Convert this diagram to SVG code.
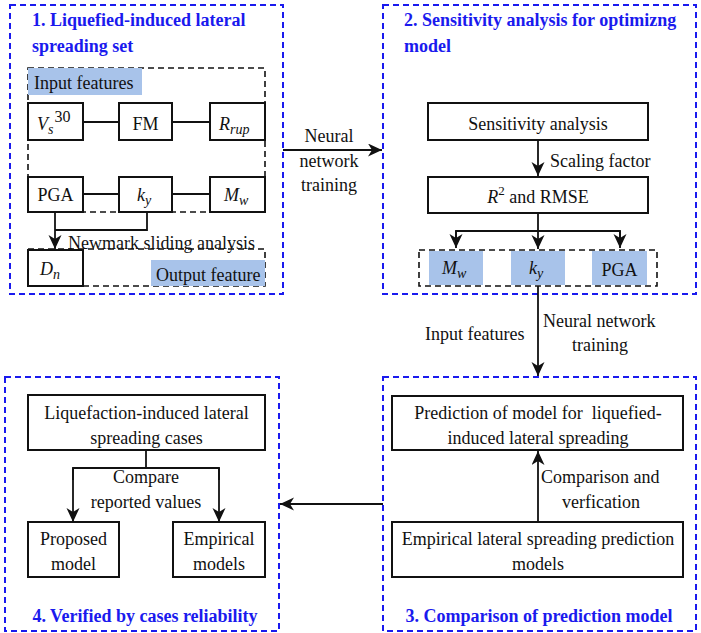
<svg xmlns="http://www.w3.org/2000/svg" width="701" height="633" viewBox="0 0 701 633" font-family="'Liberation Serif', 'Times New Roman', serif">
<style>
text{font-family:'Liberation Serif','Times New Roman',serif;font-size:18px;fill:#111}
.t{font-weight:bold;font-size:18px;fill:#1a1aee}
.panel{fill:none;stroke:#1a1aee;stroke-width:2;stroke-dasharray:6,4}
.grp{fill:none;stroke:#111;stroke-width:1.6;stroke-dasharray:6,4}
.box{fill:#fff;stroke:#111;stroke-width:2}
.hl{fill:#a8c3ea}
.ln{fill:none;stroke:#111;stroke-width:1.8}
.ar{fill:none;stroke:#111;stroke-width:1.8;marker-end:url(#ah)}
.m{text-anchor:middle}
.i{font-style:italic}
.sb{font-style:italic;font-size:14px}
</style>
<defs>
<marker id="ah" markerWidth="16" markerHeight="16" refX="14" refY="6.5" orient="auto" markerUnits="userSpaceOnUse">
<path d="M0,0 L14,6.5 L0,13 L4,6.5 z" fill="#111"/>
</marker>
</defs>

<g id="panel1">
<rect class="panel" x="10" y="5" width="273" height="289"/>
<text class="t" x="32" y="26">1. Liquefied-induced lateral</text>
<text class="t" x="32" y="52">spreading set</text>
<rect class="grp" x="28" y="68" width="237" height="144"/>
<rect class="hl" x="28" y="68" width="114" height="27"/>
<text x="34" y="89">Input features</text>
<rect class="grp" x="28" y="249" width="237" height="37"/>
<rect class="hl" x="151" y="260" width="114" height="26"/>
<text x="156" y="281">Output feature</text>
</g>
<g id="node-vs30"><rect class="box" x="28" y="103" width="55" height="37"/><text x="37" y="130"><tspan class="i">V</tspan><tspan class="sb" dy="4">s</tspan><tspan font-size="16" dx="1" dy="-12">30</tspan></text></g>
<g id="node-fm"><rect class="box" x="119" y="103" width="53" height="37"/><text class="m" x="145.5" y="130">FM</text></g>
<g id="node-rrup"><rect class="box" x="210" y="103" width="55" height="37"/><text x="219" y="130"><tspan class="i">R</tspan><tspan class="sb" dy="4">rup</tspan></text></g>
<g id="node-pga"><rect class="box" x="28" y="177" width="55" height="35"/><text class="m" x="55.5" y="201">PGA</text></g>
<g id="node-ky"><rect class="box" x="119" y="177" width="53" height="35"/><text x="137" y="201"><tspan class="i">k</tspan><tspan class="sb" dy="4">y</tspan></text></g>
<g id="node-mw"><rect class="box" x="210" y="177" width="55" height="35"/><text x="224" y="201"><tspan class="i">M</tspan><tspan class="sb" dy="4">w</tspan></text></g>
<g id="node-dn"><rect class="box" x="28" y="250" width="55" height="36"/><text x="40" y="275"><tspan class="i">D</tspan><tspan class="sb" dy="4">n</tspan></text></g>

<g id="panel2">
<rect class="panel" x="383" y="5" width="313" height="289"/>
<text class="t" x="404" y="26">2. Sensitivity analysis for optimizng</text>
<text class="t" x="404" y="52">model</text>
<rect class="grp" x="419" y="250" width="238" height="36"/>
</g>
<g id="node-sens"><rect class="box" x="428" y="103" width="220" height="37"/><text class="m" x="538" y="130">Sensitivity analysis</text></g>
<g id="node-r2"><rect class="box" x="428" y="177" width="220" height="36"/><text class="m" x="538" y="203"><tspan class="i">R</tspan><tspan dy="-8" font-size="13">2</tspan><tspan dy="8"> and RMSE</tspan></text></g>
<g id="node-mw2"><rect class="hl" x="429" y="251" width="54" height="34"/><text x="442" y="274"><tspan class="i">M</tspan><tspan class="sb" dy="4">w</tspan></text></g>
<g id="node-ky2"><rect class="hl" x="511" y="251" width="54" height="34"/><text x="529" y="274"><tspan class="i">k</tspan><tspan class="sb" dy="4">y</tspan></text></g>
<g id="node-pga2"><rect class="hl" x="592" y="251" width="55" height="34"/><text class="m" x="619.5" y="276">PGA</text></g>

<g id="panel3">
<rect class="panel" x="383" y="377" width="313" height="254"/>
<text class="t m" x="539" y="622">3. Comparison of prediction model</text>
</g>
<g id="node-pred"><rect class="box" x="392" y="396" width="291" height="54"/><text class="m" x="538" y="419" xml:space="preserve">Prediction of model for  liquefied-</text><text class="m" x="538" y="444">induced lateral spreading</text></g>
<g id="node-emp"><rect class="box" x="392" y="522" width="291" height="55"/><text class="m" x="538" y="545">Empirical lateral spreading prediction</text><text class="m" x="538" y="570">models</text></g>

<g id="panel4">
<rect class="panel" x="5" y="377" width="274" height="254"/>
<text class="t m" x="145" y="622">4. Verified by cases reliability</text>
</g>
<g id="node-cases"><rect class="box" x="28" y="395" width="237" height="55"/><text class="m" x="146.5" y="419">Liquefaction-induced lateral</text><text class="m" x="146.5" y="444">spreading cases</text></g>
<g id="node-proposed"><rect class="box" x="28" y="522" width="91" height="55"/><text class="m" x="73.5" y="545">Proposed</text><text class="m" x="73.5" y="570">model</text></g>
<g id="node-empm"><rect class="box" x="173" y="522" width="92" height="55"/><text class="m" x="219" y="545">Empirical</text><text class="m" x="219" y="570">models</text></g>

<g id="connectors">
<line class="ln" x1="83" y1="122" x2="119" y2="122"/>
<line class="ln" x1="172" y1="122" x2="210" y2="122"/>
<line class="ln" x1="83" y1="194" x2="119" y2="194"/>
<line class="ln" x1="172" y1="194" x2="210" y2="194"/>
<polyline class="ln" points="147,212 147,230 55,230"/>
<line class="ar" x1="55" y1="212" x2="55" y2="249"/>
<text x="68" y="249">Newmark sliding analysis</text>

<line class="ar" x1="283" y1="150" x2="382" y2="150"/>
<text class="m" x="329" y="142">Neural</text>
<text class="m" x="329" y="167">network</text>
<text class="m" x="329" y="191">training</text>

<line class="ar" x1="538" y1="140" x2="538" y2="176"/>
<text x="550" y="167">Scaling factor</text>
<line class="ln" x1="538" y1="213" x2="538" y2="231"/>
<polyline class="ln" points="456,240 456,231 620,231 620,240"/>
<line class="ar" x1="456" y1="231" x2="456" y2="248"/>
<line class="ar" x1="538" y1="231" x2="538" y2="249"/>
<line class="ar" x1="620" y1="231" x2="620" y2="248"/>

<line class="ar" x1="538" y1="286" x2="538" y2="376"/>
<text x="425" y="340">Input features</text>
<text x="543" y="327">Neural network</text>
<text class="m" x="600" y="351">training</text>

<line class="ar" x1="538" y1="522" x2="538" y2="451"/>
<text x="541" y="483">Comparison and</text>
<text class="m" x="601" y="508">verfication</text>

<line class="ar" x1="383" y1="504" x2="280" y2="504"/>

<line class="ln" x1="146" y1="450" x2="146" y2="468"/>
<polyline class="ln" points="73,480 73,468 219,468 219,480"/>
<line class="ar" x1="73" y1="468" x2="73" y2="522"/>
<line class="ar" x1="219" y1="468" x2="219" y2="522"/>
<text class="m" x="146" y="483">Compare</text>
<text class="m" x="146" y="508">reported values</text>
</g>
</svg>
